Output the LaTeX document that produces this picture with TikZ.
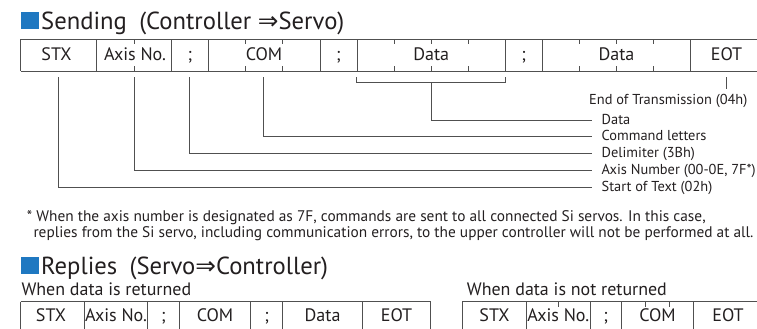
\documentclass[tikz,border=0pt]{standalone}
\usepackage{fontspec}
\setmainfont{PT Sans}
\newfontfamily\symfont{DejaVu Sans}
\definecolor{ink}{HTML}{231F20}
\definecolor{lineg}{HTML}{505050}
\definecolor{sqblue}{RGB}{31,120,193}
\newlength\tmpw
\newcommand\calibfs[3]{\settowidth\tmpw{\normalfont\fontsize{10pt}{12pt}\selectfont #3}\pgfmathsetmacro#1{10*#2/\tmpw}\global\let#1#1}
\AtBeginDocument{%
\calibfs\fsTitle{303}{Sending\hspace{0.5em}(Controller {\symfont ⇒}Servo)}%
\calibfs\fsCell{62}{Axis No.}%
\calibfs\fsLbl{154}{Axis Number (00-0E, 7F*)}%
\calibfs\fsSub{200}{When data is not returned}%
\calibfs\fsFoot{720}{replies from the Si servo, including communication errors, to the upper controller will not be performed at all.}%
}
\begin{document}
\begin{tikzpicture}[x=1pt,y=-1pt,
  tbl/.style={draw=lineg, line width=0.9pt},
  conn/.style={draw=lineg, line width=0.9pt},
  celltext/.style={anchor=base, inner sep=0pt, text=ink, font=\fontsize{\fsCell pt}{\fsCell pt}\selectfont},
  lbltext/.style={anchor=base west, inner sep=0pt, text=ink, font=\fontsize{\fsLbl pt}{\fsLbl pt}\selectfont},
  titletext/.style={anchor=base west, inner sep=0pt, text=ink, font=\fontsize{\fsTitle pt}{\fsTitle pt}\selectfont},
  subtext/.style={anchor=base west, inner sep=0pt, text=ink, font=\fontsize{\fsSub pt}{\fsSub pt}\selectfont},
  foottext/.style={anchor=base west, inner sep=0pt, text=ink, font=\fontsize{\fsFoot pt}{\fsFoot pt}\selectfont},
  bluesq/.style={fill=sqblue, draw=none}]
\useasboundingbox (0,0) rectangle (757,329);

% ---------- Sending title ----------
\fill[bluesq] (21.3,12.3) rectangle (39.3,29.3);
\node[titletext] (tsend) at (41,29.3) {Sending\hspace{0.5em}(Controller {\symfont ⇒}Servo)};

% ---------- Sending table ----------
\draw[tbl] (20.7,39.3) -- (757,39.3);
\draw[tbl] (20.7,71.3) -- (757,71.3);
\foreach \x in {20.7,96.7,171.7,208,320,357,505.3,542.3,690.7}
  \draw[tbl] (\x,39.3) -- (\x,71.3);
\foreach \x in {134.2,245.3,282.7,394.1,431.2,468.2,579.4,616.5,653.6}{
  \draw[tbl] (\x,39.3) -- (\x,44.3);
  \draw[tbl] (\x,71.3) -- (\x,66.3);
}
\node[celltext] (sstx)  at (56.5,60.8)  {STX};
\node[celltext] (saxis) at (135,60.8)   {Axis No.};
\node[celltext] (ss1)   at (189.9,60.8) {;};
\node[celltext] (scom)  at (264,60.8)   {COM};
\node[celltext] (ss2)   at (338.5,60.8) {;};
\node[celltext] (sd1)   at (431.2,60.8) {Data};
\node[celltext] (ss3)   at (523.8,60.8) {;};
\node[celltext] (sd2)   at (616.5,60.8) {Data};
\node[celltext] (seot)  at (726.5,60.8) {EOT};

% ---------- connectors ----------
\coordinate (cstx)  at (58.3,77);
\coordinate (caxis) at (134.2,77);
\coordinate (cdel)  at (189.6,77);
\coordinate (ccom)  at (263.6,77);
\coordinate (cbl)   at (356,77);
\coordinate (cbr)   at (505.3,77);
\coordinate (cbm)   at (431.7,82.7);
\coordinate (ceot)  at (726,77);
\coordinate (eeot)  at (726,89);
\coordinate (edata) at (591.7,120.7);
\coordinate (ecom)  at (591.7,136);
\coordinate (edel)  at (591.7,153.3);
\coordinate (eaxis) at (591.7,170.7);
\coordinate (estx)  at (591.7,187.3);

\draw[conn] (cbl) |- (cbm) -| (cbr);
\draw[conn] (cbm) |- (edata);
\draw[conn] (ccom) |- (ecom);
\draw[conn] (cdel) |- (edel);
\draw[conn] (caxis) |- (eaxis);
\draw[conn] (cstx) |- (estx);
\draw[conn] (ceot) -- (eeot);

\node[lbltext] (leot)  at (589,104.5) {End of Transmission (04h)};
\node[lbltext] (ldata) at (601.5,124.8) {Data};
\node[lbltext] (lcom)  at (601.5,140.1) {Command letters};
\node[lbltext] (ldel)  at (601.5,157.4) {Delimiter (3Bh)};
\node[lbltext] (laxis) at (601.5,174.8) {Axis Number (00-0E, 7F*)};
\node[lbltext] (lstx)  at (601.5,191.4) {Start of Text (02h)};

% ---------- footnote ----------
\node[foottext] (f1) at (26.7,221.5) {* When the axis number is designated as 7F, commands are sent to all connected Si servos. In this case,};
\node[foottext] (f2) at (33.3,237.5) {replies from the Si servo, including communication errors, to the upper controller will not be performed at all.};

% ---------- Replies title ----------
\fill[bluesq] (21.3,257.3) rectangle (39.3,274);
\node[titletext] (trep) at (41,274) {Replies\hspace{0.5em}(Servo{\symfont ⇒}Controller)};

\node[subtext] (sub1) at (21.3,295.5) {When data is returned};
\node[subtext] (sub2) at (466.7,295.5) {When data is not returned};

% ---------- Reply table 1 ----------
\draw[tbl] (20.7,301.7) -- (430.5,301.7);
\foreach \x in {20.7,84,147.7,179.3,250.7,282.7,362.5,430.5}
  \draw[tbl] (\x,301.7) -- (\x,329);
\node[celltext] (r1stx)  at (51,321)    {STX};
\node[celltext] (r1axis) at (116,321)   {Axis No.};
\node[celltext] (r1s1)   at (163.5,321) {;};
\node[celltext] (r1com)  at (215,321)   {COM};
\node[celltext] (r1s2)   at (266.7,321) {;};
\node[celltext] (r1data) at (322.6,321) {Data};
\node[celltext] (r1eot)  at (396.5,321) {EOT};

% ---------- Reply table 2 ----------
\draw[tbl] (462.3,301.7) -- (757,301.7);
\foreach \x in {462.3,526.7,590,621.7,693.3}
  \draw[tbl] (\x,301.7) -- (\x,329);
\foreach \x in {558.3,645.6,669.5}
  \draw[tbl] (\x,301.7) -- (\x,306.7);
\node[celltext] (r2stx)  at (494.5,321) {STX};
\node[celltext] (r2axis) at (558.3,321) {Axis No.};
\node[celltext] (r2s1)   at (605.8,321) {;};
\node[celltext] (r2com)  at (657.5,321) {COM};
\node[celltext] (r2eot)  at (728,321)   {EOT};
\end{tikzpicture}
\end{document}
